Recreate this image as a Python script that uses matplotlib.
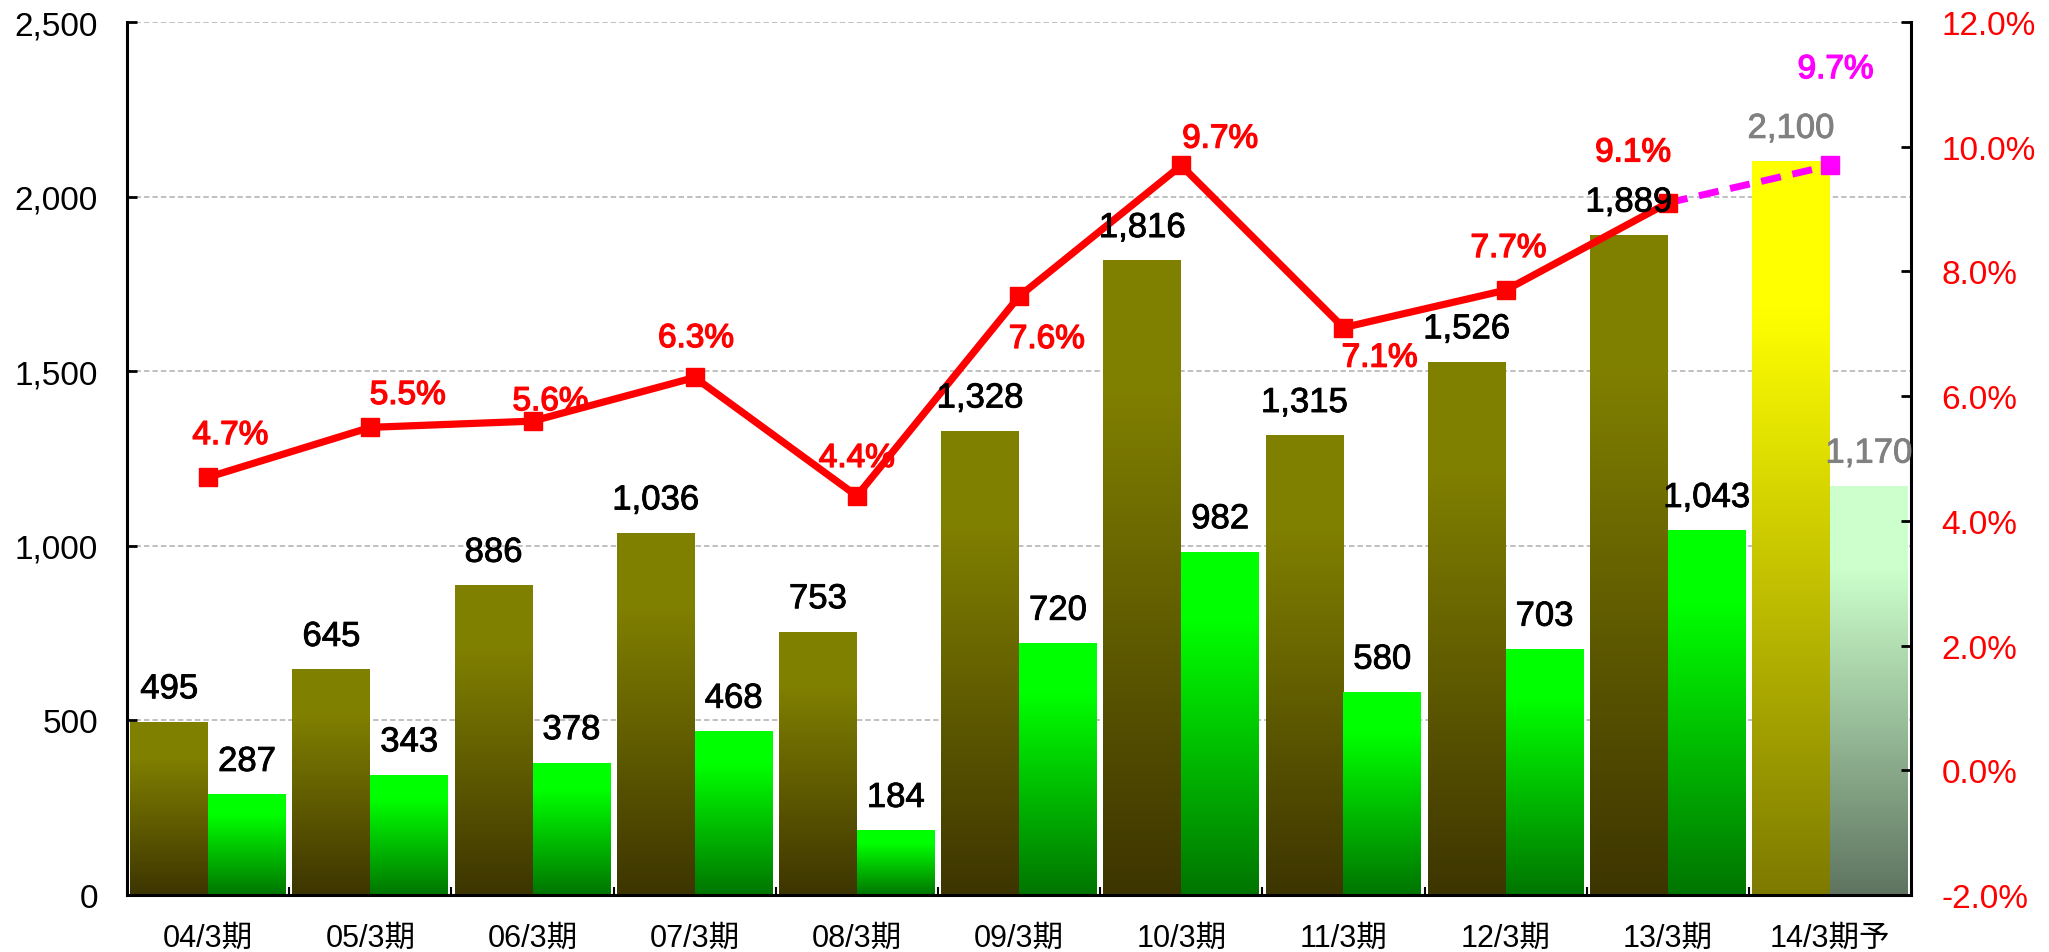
import matplotlib
matplotlib.use("Agg")
import matplotlib.pyplot as plt
import matplotlib.patheffects as pe
import numpy as np
from matplotlib.ticker import FuncFormatter, FixedLocator
from matplotlib.colors import to_rgb

plt.rcParams['font.family'] = ['Liberation Sans', 'Noto Sans CJK JP']

# data
periods = ["04/3期", "05/3期", "06/3期", "07/3期", "08/3期", "09/3期",
           "10/3期", "11/3期", "12/3期", "13/3期", "14/3期予"]
sales = [495, 645, 886, 1036, 753, 1328, 1816, 1315, 1526, 1889, 2100]
profit = [287, 343, 378, 468, 184, 720, 982, 580, 703, 1043, 1170]
margin = [4.7, 5.5, 5.6, 6.3, 4.4, 7.6, 9.7, 7.1, 7.7, 9.1, 9.7]

# label offsets for the margin labels (points)
pct_offsets = [(16, 30), (27, 23), (13, 14), (1, 28), (0, 27), (20, -31),
               (28, 19), (26, -22), (2, 30), (-25, 36), (4, 69)]


def gradient_bar(ax, rect, top, bottom, z=2):
    x0, w, h = rect.get_x(), rect.get_width(), rect.get_height()
    n = 200
    f = 1 - np.linspace(0, 1, n)  # fraction from top, row 0 = bottom
    s = np.clip((f - 0.2) / 0.8, 0, 1)[:, None]
    top = np.array(to_rgb(top))
    bottom = np.array(to_rgb(bottom))
    img = (top * (1 - s) + bottom * s)[:, None, :]
    ax.imshow(img, extent=[x0, x0 + w, 0, h], origin='lower',
              aspect='auto', zorder=z, interpolation='bilinear')


fig = plt.figure(figsize=(20.49, 9.53), dpi=100)
ax = fig.add_axes([0.062, 0.0598, 0.8707, 0.916])
x = np.arange(len(periods))
bw = 0.48

b1 = ax.bar(x - bw, sales, width=bw, align='edge', color='none', zorder=2)
b2 = ax.bar(x, profit, width=bw, align='edge', color='none', zorder=2)

for i, r in enumerate(b1):
    if i == len(b1) - 1:
        gradient_bar(ax, r, '#ffff00', '#7d7a00')
    else:
        gradient_bar(ax, r, '#808000', '#3d3500')
for i, r in enumerate(b2):
    if i == len(b2) - 1:
        gradient_bar(ax, r, '#ccffcc', '#5f7460')
    else:
        gradient_bar(ax, r, '#00ff00', '#007500')

ax.set_xlim(-0.5, len(periods) - 0.5)
ax.set_ylim(0, 2500)
ax.set_yticks(np.arange(0, 2501, 500))
ax.yaxis.set_major_formatter(FuncFormatter(lambda v, p: f"{v:,.0f}"))
ax.set_axisbelow(True)
ax.yaxis.grid(True, color='#bbbbbb', lw=1.3, dashes=(3, 1.7))
ax.set_xticks(x)
ax.set_xticklabels(periods, fontsize=22)
ax.xaxis.set_minor_locator(FixedLocator(np.arange(0.5, len(periods) - 1, 1)))
ax.tick_params(axis='x', which='major', length=0, pad=20)
ax.tick_params(axis='x', which='minor', direction='in', length=6, width=1.5)
ax.tick_params(axis='y', direction='in', length=7, width=2, labelsize=24, pad=21)
ax.spines['top'].set_visible(False)
ax.spines['right'].set_visible(False)
for s in ['left', 'bottom']:
    ax.spines[s].set_linewidth(2.2)

ax2 = ax.twinx()
ax2.set_ylim(-2, 12)
ax2.set_yticks(np.arange(-2, 12.1, 2))
ax2.yaxis.set_major_formatter(FuncFormatter(lambda v, p: f"{v:.1f}%"))
ax2.tick_params(axis='y', direction='in', length=7, width=2, labelsize=24,
                labelcolor='#ff0000', pad=22)
ax2.spines['top'].set_visible(False)
ax2.spines['left'].set_visible(False)
ax2.spines['bottom'].set_visible(False)
ax2.spines['right'].set_linewidth(2.2)

ax2.plot(x[-2:], margin[-2:], color='#ff00ff', lw=5, dashes=(2.9, 1.7),
         marker='s', ms=13, markevery=[1], zorder=3)
ax2.plot(x[:-1], margin[:-1], color='#ff0000', lw=5.2, marker='s', ms=13, zorder=4)

# bar value labels
for bars in (b1, b2):
    for i, r in enumerate(bars):
        c = '#808080' if i == len(bars) - 1 else 'black'
        ax2.annotate(f"{r.get_height():,.0f}",
                     xy=(r.get_x() + r.get_width() / 2, r.get_height()),
                     xycoords=ax.transData, xytext=(0, 24),
                     textcoords='offset points', ha='center', va='center',
                     fontsize=25, color=c, zorder=6,
                     path_effects=[pe.withStroke(linewidth=0.6, foreground=c)])

# margin labels
for i, v in enumerate(margin):
    c = '#ff00ff' if i == len(margin) - 1 else '#ff0000'
    ax2.annotate(f"{v:.1f}%", xy=(x[i], v), xytext=pct_offsets[i],
                 textcoords='offset points', ha='center', va='center',
                 fontsize=24, color=c, zorder=7,
                 path_effects=[pe.withStroke(linewidth=1.0, foreground=c)])

fig.savefig("out.png", dpi=100)
